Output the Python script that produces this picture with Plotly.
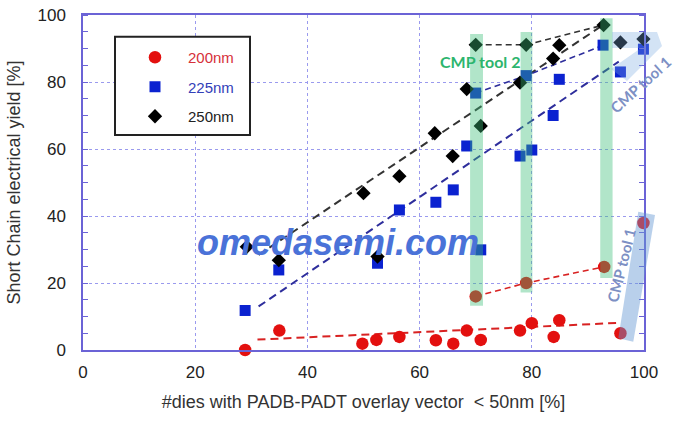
import plotly.graph_objects as go

# ---------------- data ----------------
x200 = [28.9, 35.0, 49.8, 52.3, 56.4, 62.9, 66.0, 68.4, 70.9, 77.9, 80.0, 83.9, 84.9, 95.8, 99.9, 70.0, 79.0, 92.9]
y200 = [0.0, 5.8, 1.9, 3.0, 3.9, 2.9, 1.9, 5.8, 3.0, 5.8, 8.0, 3.9, 8.9, 5.0, 37.9, 16.0, 20.0, 24.8]

x225 = [28.9, 34.9, 52.5, 56.4, 62.9, 66.0, 68.4, 70.0, 70.9, 77.9, 80.0, 79.0, 83.8, 84.9, 92.7, 95.8, 99.9]
y225 = [11.8, 23.9, 25.9, 41.8, 44.1, 47.8, 60.9, 76.7, 29.9, 57.9, 59.7, 81.9, 70.0, 80.8, 91.0, 83.0, 89.8]

x250 = [29.2, 34.9, 50.0, 52.5, 56.4, 62.7, 65.9, 68.4, 70.9, 70.0, 79.0, 77.9, 83.8, 84.9, 92.8, 95.8, 99.9]
y250 = [30.8, 26.8, 46.8, 27.9, 51.9, 64.7, 57.9, 77.9, 66.9, 91.1, 91.1, 79.8, 87.0, 91.0, 97.0, 91.8, 92.8]

# trend lines (fits drawn on the original)
trend200_x = [31.1, 95.5]
trend200_y = [3.1, 8.1]
trend225_x = [31.3, 95.5]
trend225_y = [13.0, 86.1]
trend250_x = [31.3, 92.7]
trend250_y = [28.4, 97.0]

# CMP tool 2 connecting lines
tool2_x = [70.0, 79.0, 92.8]
tool2_200 = [16.0, 20.0, 24.8]
tool2_225 = [76.7, 81.9, 91.0]
tool2_250 = [91.1, 91.1, 97.0]

# CMP tool 2 highlight bands: (x0, x1, y0, y1)
bands = [(69.0, 71.3, 13.2, 94.3), (78.0, 80.1, 17.2, 94.9), (92.2, 94.4, 21.5, 99.0)]

xticks = [0, 20, 40, 60, 80, 100]
yticks = [0, 20, 40, 60, 80, 100]

# ---------------- style ----------------
W, H = 679, 433
ML, MR, MT, MB = 83, 35, 15, 83
PW, PH = W - ML - MR, H - MT - MB


def px(xp, yp):
    return (xp - ML) / PW, (H - MB - yp) / PH


def path_px(pts):
    s = ""
    for i, (a, b) in enumerate(pts):
        xx, yy = px(a, b)
        s += ("M" if i == 0 else "L") + f"{xx:.4f},{yy:.4f} "
    return s + "Z"


AX = "#6b63d6"
RED, BLUE, BLACK = "#e3100f", "#0b22d0", "#000000"

fig = go.Figure()

dash = "8px,5px"
for lx, ly, c in [(trend200_x, trend200_y, "#d82222"), (trend225_x, trend225_y, "#2e2e9c"),
                  (trend250_x, trend250_y, "#333333")]:
    fig.add_trace(go.Scatter(x=lx, y=ly, mode="lines", line=dict(color=c, width=2, dash=dash),
                             showlegend=False, hoverinfo="skip"))
for ly, c in [(tool2_200, "#d82222"), (tool2_225, "#2e2e9c"), (tool2_250, "#333333")]:
    fig.add_trace(go.Scatter(x=tool2_x, y=ly, mode="lines", line=dict(color=c, width=1.6, dash="6px,4px"),
                             showlegend=False, hoverinfo="skip"))

fig.add_trace(go.Scatter(x=x200, y=y200, mode="markers", name="<span style='color:#d6303a'>200nm</span>",
                         legendgroup="a", cliponaxis=False,
                         marker=dict(symbol="circle", size=12.5, color=RED)))
fig.add_trace(go.Scatter(x=x225, y=y225, mode="markers", name="<span style='color:#3340b8'>225nm</span>",
                         legendgroup="b", cliponaxis=False,
                         marker=dict(symbol="square", size=11, color=BLUE)))
fig.add_trace(go.Scatter(x=x250, y=y250, mode="markers", name="<span style='color:#222222'>250nm</span>",
                         legendgroup="c", cliponaxis=False,
                         marker=dict(symbol="diamond", size=11, color=BLACK)))
# empty trace only to activate the right-hand tick axis
fig.add_trace(go.Scatter(x=[], y=[], yaxis="y2", showlegend=False, hoverinfo="skip"))

shapes = []
# legend box
lx0, ly0 = px(115, 36.7)
lx1, ly1 = px(250, 135)
shapes.append(dict(type="rect", xref="paper", yref="paper", x0=lx0, x1=lx1, y0=ly1, y1=ly0,
                   fillcolor="white", line=dict(color="#222222", width=2), layer="above"))
for (a, b, c, d) in bands:
    shapes.append(dict(type="rect", xref="x", yref="y", x0=a, x1=b, y0=c, y1=d,
                       fillcolor="rgba(60,190,120,0.40)", line=dict(width=0), layer="above"))
# CMP tool 1 highlights
shapes.append(dict(type="path", xref="paper", yref="paper",
                   path=path_px([(638.3, 211.7), (655, 215), (633.3, 341.7), (618.3, 338.3)]),
                   fillcolor="rgba(100,150,210,0.45)", line=dict(width=0), layer="above"))
shapes.append(dict(type="path", xref="paper", yref="paper",
                   path=path_px([(612, 32), (657, 32), (662, 46), (627, 81), (611, 69), (641, 48), (612, 48)]),
                   fillcolor="rgba(120,170,225,0.33)", line=dict(width=0), layer="above"))

ann = []


def add_text(t, xp, yp, size, color, angle=0, family="Lato"):
    xx, yy = px(xp, yp)
    ann.append(dict(text=t, x=xx, y=yy, xref="paper", yref="paper", showarrow=False,
                    xanchor="center", yanchor="middle", textangle=angle,
                    font=dict(family=family, size=size, color=color)))


add_text("<b>CMP tool 2</b>", 480, 61.5, 16, "#2db56e")
add_text("<b>CMP tool 1</b>", 640, 85, 15, "#7d90c4", angle=-42)
add_text("<b>CMP tool 1</b>", 621, 266, 15, "#7d90c4", angle=-76)
add_text("<b><i>omedasemi.com</i></b>", 337.5, 243, 36, "#4a72d8", family="Liberation Sans")

minor_ticks = dict(dtick=5, ticks="inside", ticklen=5, tickcolor=AX, tickwidth=1, showgrid=False)

fig.update_layout(
    width=W, height=H, margin=dict(l=ML, r=MR, t=MT, b=MB, autoexpand=False),
    paper_bgcolor="white", plot_bgcolor="white",
    font=dict(family="Liberation Sans", color="#222222"),
    shapes=shapes, annotations=ann,
    legend=dict(x=px(122, 0)[0], y=px(0, 41)[1], xanchor="left", yanchor="top",
                bgcolor="rgba(0,0,0,0)", borderwidth=0, itemwidth=56, tracegroupgap=7,
                font=dict(size=15)),
    xaxis=dict(range=[0, 100], tickvals=xticks, showgrid=True, gridcolor="#9a9aee", griddash="dot",
               gridwidth=1, showline=True, linecolor=AX, linewidth=1.5, mirror=True, ticks="",
               zeroline=False, tickfont=dict(size=17, color="#222222"), ticklabelstandoff=6,
               automargin=False,
               title=dict(text="#dies with PADB-PADT overlay vector  &lt; 50nm [%]",
                          font=dict(size=18, color="#333333"), standoff=14)),
    yaxis=dict(range=[0, 100], tickvals=yticks, showgrid=True, gridcolor="#9a9aee", griddash="dot",
               gridwidth=1, showline=True, linecolor=AX, linewidth=1.5, mirror=True, ticks="",
               zeroline=False, tickfont=dict(size=17, color="#222222"), ticklabelstandoff=12,
               automargin=False, minor=minor_ticks,
               title=dict(text="Short Chain electrical yield [%]", font=dict(size=18, color="#333333"),
                          standoff=12)),
    yaxis2=dict(range=[0, 100], overlaying="y", side="right", tickvals=yticks, showticklabels=False,
                showgrid=False, zeroline=False, ticks="", showline=False, automargin=False,
                minor=minor_ticks),
)

fig.write_html("out.html")
